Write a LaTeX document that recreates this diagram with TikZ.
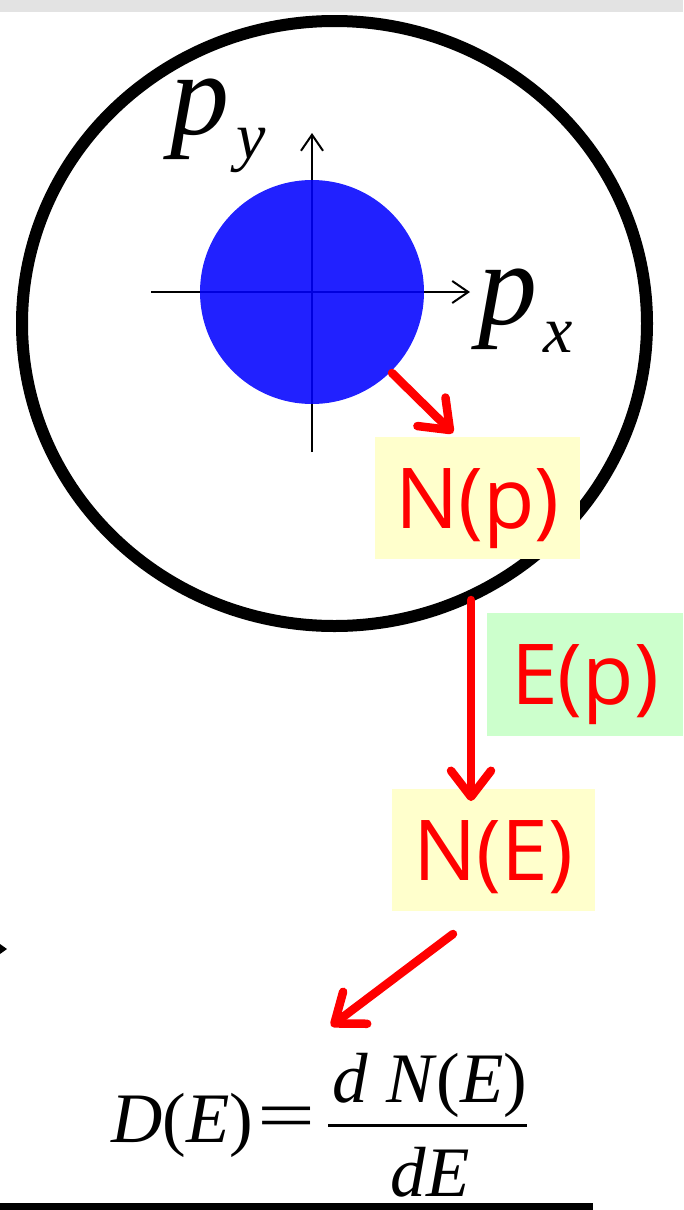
\documentclass[tikz,border=0pt]{standalone}
\usepackage{fontspec}
\usepackage{graphicx}
\setmainfont{Liberation Serif}
\newfontfamily\labelfont{Open Sans}
\usetikzlibrary{arrows.meta,shapes.geometric}
\definecolor{boxyellow}{HTML}{FFFFCC}
\definecolor{boxgreen}{HTML}{CCFFCC}
\definecolor{diskblue}{HTML}{0000FF}
\definecolor{bargray}{HTML}{E3E3E3}
\begin{document}
\begin{tikzpicture}[x=1pt,y=-1pt,
  lbl/.style={font={\labelfont\fontsize{84}{84}\selectfont}, text=red, inner sep=0pt,
              text height=60pt, text depth=0pt, align=center},
  axisline/.style={line width=2pt, -{Straight Barb[length=16pt,width=22pt,line width=2pt]}},
  redarrow/.style={draw=red, line width=8.5pt, line cap=round,
                   -{Straight Barb[length=26pt,width=40pt,line width=8.5pt,round]}},
  mathbig/.style={font={\fontsize{118}{118}\selectfont}, inner sep=0pt},
  mathsub/.style={font={\fontsize{66}{66}\selectfont}, inner sep=0pt},
  formula/.style={font={\fontsize{71}{71}\selectfont}, inner sep=0pt}
]
\useasboundingbox (0,0) rectangle (683,1210);
% top gray bar
\fill[bargray] (0,0) rectangle (683,12);
% axes (drawn under the semi transparent disk)
\coordinate (xa0) at (151,292);
\coordinate (xa1) at (470,292);
\coordinate (ya0) at (312,452);
\coordinate (ya1) at (312,133);
\draw[axisline] (xa0) -- (xa1);
\draw[axisline] (ya0) -- (ya1);
% disk
\node[circle, fill=diskblue, fill opacity=0.87, minimum size=224pt, inner sep=0pt] (disk) at (312,292) {};
% outer ring
\node[ellipse, draw=black, line width=12pt, minimum width=625pt, minimum height=605pt, inner sep=0pt] (ring) at (334.5,323.5) {};
% axis labels
\node[mathbig, anchor=base west] (py) at (170,134) {\textit{p}};
\node[mathsub, anchor=base west] (pysub) at (236,158) {\textit{y}};
\node[mathbig, anchor=base west] (px) at (478,324) {\textit{p}};
\node[mathsub, anchor=base west] (pxsub) at (543,352) {\textit{x}};
% boxes
\node[lbl, fill=boxyellow, minimum width=205pt, minimum height=122pt] (Np) at (477.5,498) {N(p)};
\node[lbl, fill=boxgreen, minimum width=196pt, minimum height=123pt] (Ep) at (585,674.5) {E(p)};
\node[lbl, fill=boxyellow, minimum width=203pt, minimum height=122pt] (NE) at (493.5,850) {N(E)};
% formula
\node[formula, anchor=base west] (DE) at (111,1142) {\textit{D}(\textit{E})};
\node[formula] (eq) at (287,1123) {\scalebox{1.45}[1]{=}};
\node[formula, anchor=base] (num) at (430,1102) {\textit{d}\hspace{0.25em}\textit{N}(\textit{E})};
\node[formula, anchor=base] (den) at (430,1196) {\textit{dE}};
\draw[line width=3pt] (328,1125) -- (527,1125);
% bottom rule
\fill[black] (0,1203) rectangle (593,1210);
% small arrow tip at left edge
\fill[black] (0,944) -- (7,949) -- (0,954) -- cycle;
% red arrows
\coordinate (a1s) at (392,373);
\coordinate (a1e) at (453,433);
\coordinate (a2s) at (471,600);
\coordinate (a2e) at (471,801);
\coordinate (a3s) at (453,934);
\coordinate (a3e) at (331,1026);
\draw[redarrow] (a1s) -- (a1e);
\draw[redarrow] (a2s) -- (a2e);
\draw[redarrow] (a3s) -- (a3e);
\end{tikzpicture}
\end{document}
